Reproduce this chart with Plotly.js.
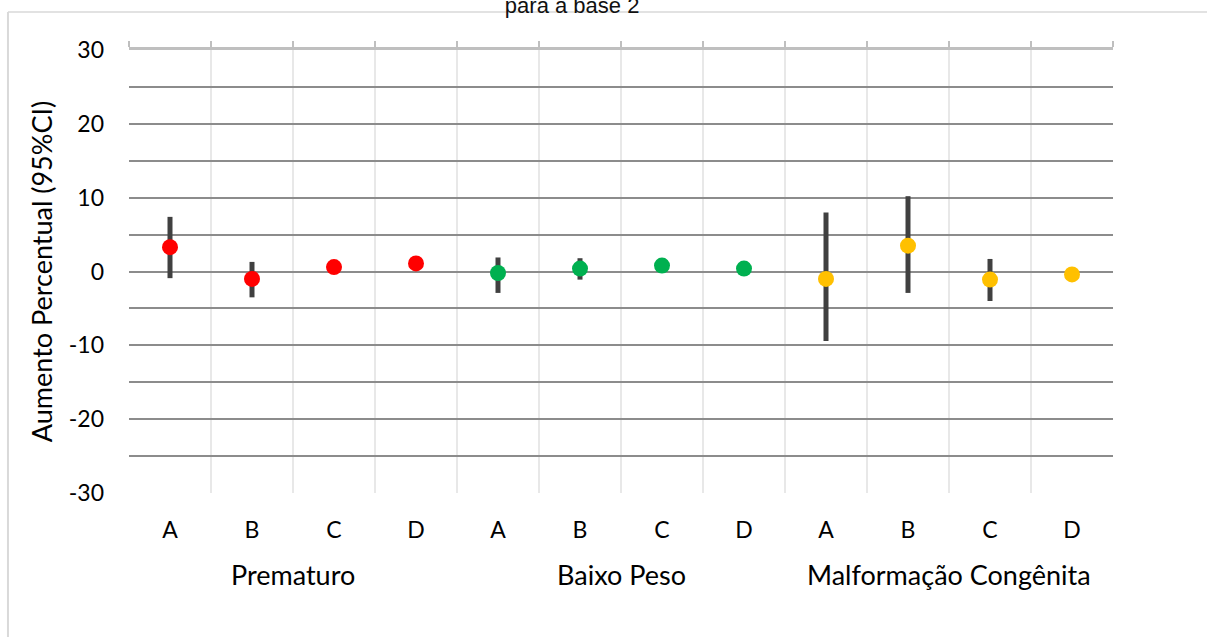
<!DOCTYPE html>
<html>
<head>
<meta charset="utf-8">
<script src="https://cdn.plot.ly/plotly-3.0.1.min.js"></script>
<style>html,body{margin:0;padding:0;background:#fff;}#chart{width:1207px;height:637px;}</style>
</head>
<body>
<div id="chart"></div>
<script>
// ---- data ----
const groups = ["Prematuro", "Baixo Peso", "Malformação Congênita"];
const subcats = ["A", "B", "C", "D"];
const groupColors = ["#FF0000", "#00B050", "#FFC000"];

const prematuroValue = [3.3, -1.0, 0.6, 1.1];
const prematuroLower = [-0.9, -3.5, 0.2, 0.7];
const prematuroUpper = [7.4, 1.3, 1.0, 1.5];

const baixoPesoValue = [-0.2, 0.4, 0.8, 0.4];
const baixoPesoLower = [-2.9, -1.1, 0.4, 0.0];
const baixoPesoUpper = [1.9, 1.8, 1.2, 0.8];

const malformacaoValue = [-1.0, 3.5, -1.1, -0.4];
const malformacaoLower = [-9.4, -2.9, -4.0, -0.8];
const malformacaoUpper = [8.0, 10.2, 1.7, 0.0];

const yTickValues = [-30, -20, -10, 0, 10, 20, 30];
const yTickLabels = ["-30", "-20", "-10", "0", "10", "20", "30"];

const yTitle = "Aumento Percentual (95%CI)";
const chartTitle = "para a base 2";

// ---- build ----
const values = [prematuroValue, baixoPesoValue, malformacaoValue];
const lowers = [prematuroLower, baixoPesoLower, malformacaoLower];
const uppers = [prematuroUpper, baixoPesoUpper, malformacaoUpper];

const n = subcats.length;
const traces = groups.map((g, gi) => {
  const xs = subcats.map((_, i) => gi * n + i);
  return {
    type: "scatter",
    mode: "markers",
    name: g,
    x: xs,
    y: values[gi],
    marker: { color: groupColors[gi], size: 16 },
    error_y: {
      type: "data",
      symmetric: false,
      array: values[gi].map((v, i) => uppers[gi][i] - v),
      arrayminus: values[gi].map((v, i) => v - lowers[gi][i]),
      color: "#404040",
      thickness: 5,
      width: 0
    },
    hoverinfo: "x+y"
  };
});

const allTicks = [];
const allText = [];
groups.forEach((g, gi) => subcats.forEach((s, i) => { allTicks.push(gi * n + i); allText.push(s); }));
const total = groups.length * n;
const boundaries = [];
for (let k = 0; k <= total; k++) boundaries.push(k - 0.5);

// invisible helper trace for the top axis
traces.push({
  type: "scatter", mode: "markers", x: [0], y: [0], xaxis: "x2", yaxis: "y",
  marker: { opacity: 0 }, hoverinfo: "skip", showlegend: false
});

const baseFont = "Lato, 'Open Sans', sans-serif";

const annotations = groups.map((g, gi) => ({
  text: g,
  x: gi * n + (n - 1) / 2,
  xref: "x",
  y: 0,
  yref: "paper",
  yshift: -100,
  showarrow: false,
  font: { family: baseFont, size: 27, color: "#000" }
}));

const layout = {
  width: 1207,
  height: 637,
  margin: { l: 129, r: 94, t: 50, b: 144 },
  paper_bgcolor: "#fff",
  plot_bgcolor: "#fff",
  showlegend: false,
  title: {
    text: chartTitle,
    x: 0.474, xref: "container", xanchor: "center",
    y: 0.98, yref: "container", yanchor: "bottom",
    font: { family: "'Liberation Sans', Arial, sans-serif", size: 22, color: "#111" }
  },
  xaxis: {
    range: [-0.5, total - 0.5],
    tickmode: "array",
    tickvals: allTicks,
    ticktext: allText,
    showgrid: false,
    zeroline: false,
    showline: false,
    ticks: "",
    ticklabelstandoff: 21,
    tickfont: { family: baseFont, size: 23, color: "#000" },
    minor: { tick0: -0.5, dtick: 1, showgrid: true, gridcolor: "#e8e8e8", gridwidth: 2, ticks: "" }
  },
  xaxis2: {
    overlaying: "x",
    side: "top",
    anchor: "y",
    range: [-0.5, total - 0.5],
    tickmode: "array",
    tickvals: boundaries,
    ticks: "outside",
    ticklen: 6,
    tickwidth: 2,
    tickcolor: "#bfbfbf",
    showticklabels: false,
    showgrid: false,
    zeroline: false,
    showline: true,
    linecolor: "#bfbfbf",
    linewidth: 3
  },
  yaxis: {
    range: [-30, 30],
    tickmode: "array",
    tickvals: yTickValues,
    ticktext: yTickLabels,
    showgrid: true,
    gridcolor: "#8c8c8c",
    gridwidth: 2,
    zeroline: false,
    showline: false,
    ticks: "",
    ticklabelstandoff: 24,
    tickfont: { family: baseFont, size: 23, color: "#000" },
    minor: { tick0: 0, dtick: 5, showgrid: true, gridcolor: "#8c8c8c", gridwidth: 2, ticks: "" },
    title: { text: yTitle, standoff: 8, font: { family: baseFont, size: 27, color: "#000" } }
  },
  annotations: annotations,
  shapes: [
    { type: "line", xref: "paper", yref: "paper", x0: -0.123, x1: 1.1, y0: 1.0858, y1: 1.0858,
      line: { color: "#d9d9d9", width: 1.5 } },
    { type: "line", xref: "paper", yref: "paper", x0: -0.123, x1: -0.123, y0: 1.0858, y1: -0.33,
      line: { color: "#d9d9d9", width: 2 } }
  ]
};

Plotly.newPlot("chart", traces, layout, { displayModeBar: false, staticPlot: true });
</script>
</body>
</html>
